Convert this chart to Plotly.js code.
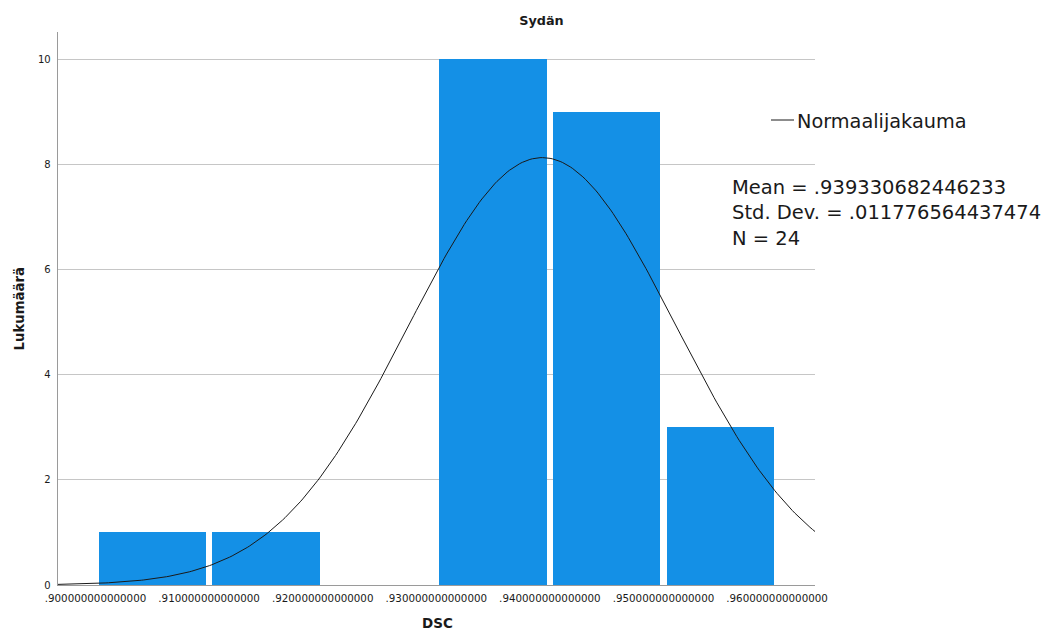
<!DOCTYPE html>
<html>
<head>
<meta charset="utf-8">
<script src="https://cdn.plot.ly/plotly-3.0.1.min.js"></script>
<style>html,body{margin:0;padding:0;background:#fff;}#chart{width:1046px;height:631px;}</style>
</head>
<body>
<div id="chart"></div>
<script>
// ---- data ----
const binStarts = [0.90, 0.91, 0.92, 0.93, 0.94, 0.95];
const binCounts = [1, 1, 0, 10, 9, 3];
const binWidth = 0.01;
const xTickVals = [0.90, 0.91, 0.92, 0.93, 0.94, 0.95, 0.96];
const xTickText = ['.900000000000000', '.910000000000000', '.920000000000000', '.930000000000000', '.940000000000000', '.950000000000000', '.960000000000000'];
const yTickVals = [0, 2, 4, 6, 8, 10];
const meanVal = 0.939330682446233;
const sdVal = 0.011776564437474;
const nVal = 24;
const statLines = ['Mean = .939330682446233', 'Std. Dev. = .011776564437474', 'N = 24'];

// ---- layout constants ----
const W = 1046, H = 631;
const L = 58, R = 815, T = 32, B = 585;
const xRange = [0.8967, 0.96334];
const yRange = [0, 10.52];
const px = v => (v - L) / (R - L);
const py = v => (B - v) / (B - T);

// histogram bars
const barX = binStarts.map(s => s + binWidth / 2);

// fitted normal curve scaled to counts
const curveX = [], curveY = [];
const nPts = 300;
for (let i = 0; i <= nPts; i++) {
  const x = xRange[0] + (xRange[1] - xRange[0]) * i / nPts;
  const z = (x - meanVal) / sdVal;
  curveX.push(x);
  curveY.push(nVal * binWidth / (sdVal * Math.sqrt(2 * Math.PI)) * Math.exp(-0.5 * z * z));
}

const traces = [
  {type: 'bar', x: barX, y: binCounts, width: binWidth * 0.945,
   marker: {color: '#1490e6', line: {width: 0}}, showlegend: false, hoverinfo: 'x+y'},
  {type: 'scatter', mode: 'lines', x: curveX, y: curveY, name: 'Normaalijakauma',
   line: {color: '#1a1a1a', width: 1}, showlegend: false}
];

const annots = [
  {text: '<b>DSC</b>', xref: 'paper', yref: 'paper', x: px(437), y: py(623), xanchor: 'center', yanchor: 'middle', showarrow: false, font: {family: 'DejaVu Sans', size: 13.5, color: '#1a1a1a'}},
  {text: '<b>Lukumäärä</b>', xref: 'paper', yref: 'paper', x: px(19), y: 0.5, textangle: -90, xanchor: 'center', yanchor: 'middle', showarrow: false, font: {family: 'DejaVu Sans', size: 13.3, color: '#1a1a1a'}},
  {text: 'Normaalijakauma', xref: 'paper', yref: 'paper', x: px(795), y: py(121), xanchor: 'left', yanchor: 'middle', showarrow: false, font: {family: 'DejaVu Sans', size: 19.3, color: '#1a1a1a'}},
  {text: statLines.join('<br>'), xref: 'paper', yref: 'paper', x: px(730), y: py(213), xanchor: 'left', yanchor: 'middle', align: 'left', showarrow: false, font: {family: 'DejaVu Sans', size: 19.5, color: '#1a1a1a'}}
];

const layout = {
  width: W, height: H,
  margin: {l: L, r: W - R, t: T, b: H - B, pad: 0},
  paper_bgcolor: '#ffffff', plot_bgcolor: '#ffffff',
  title: {text: '<b>Sydän</b>', xref: 'container', yref: 'container', x: 541.5 / W, y: 1 - 21 / H, xanchor: 'center', yanchor: 'middle',
          font: {family: 'DejaVu Sans', size: 12.8, color: '#1a1a1a'}},
  font: {family: 'DejaVu Sans', color: '#1a1a1a'},
  xaxis: {range: xRange, tickvals: xTickVals, ticktext: xTickText, showgrid: false, zeroline: false,
          showline: true, linecolor: '#9a9a9a', linewidth: 1.3, ticks: '', ticklabelstandoff: 3,
          tickfont: {family: 'DejaVu Sans', size: 10.3, color: '#1a1a1a'}, fixedrange: true},
  yaxis: {range: yRange, tickvals: yTickVals, showgrid: true, gridcolor: '#c6c6c6', gridwidth: 1, zeroline: false,
          showline: true, linecolor: '#9a9a9a', linewidth: 1.3, ticks: '', ticklabelstandoff: 4,
          tickfont: {family: 'DejaVu Sans', size: 10, color: '#1a1a1a'}, fixedrange: true},
  bargap: 0,
  showlegend: false,
  annotations: annots,
  shapes: [
    {type: 'line', xref: 'paper', yref: 'paper', x0: px(771), x1: px(794), y0: py(120), y1: py(120), line: {color: '#1a1a1a', width: 1}}
  ]
};

Plotly.newPlot('chart', traces, layout, {displayModeBar: false, staticPlot: true});
</script>
</body>
</html>
